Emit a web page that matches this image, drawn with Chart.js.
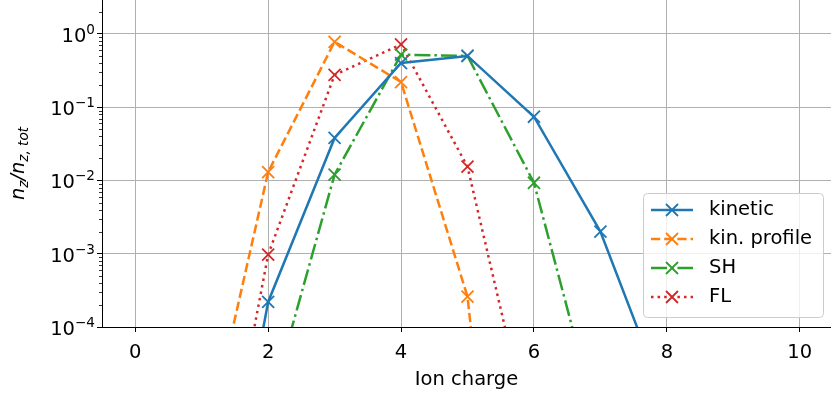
<!DOCTYPE html>
<html>
<head>
<meta charset="utf-8">
<script src="https://cdn.jsdelivr.net/npm/chart.js@4"></script>
<style>
  html, body { margin: 0; padding: 0; background: #fff; }
  #wrap { width: 831px; height: 393px; position: relative; }
</style>
</head>
<body>
<div id="wrap"><canvas id="chart"></canvas></div>
<script>
// ion charge states
const charges = [0, 1, 2, 3, 4, 5, 6, 7, 8, 9, 10];

// fractional abundances n_z / n_z,tot (values below 1e-4 are off the axis)
const kinetic     = [null, 3e-9, 2.2e-4, 0.038, 0.40, 0.50, 0.074, 2.0e-3, 8.7e-6, null, null];
const kinProfile  = [null, 1.3e-6, 0.013, 0.78, 0.22, 2.6e-4, 1e-12, null, null, null, null];
const sh          = [null, null, 6.8e-6, 0.012, 0.52, 0.50, 0.0093, 3.5e-6, null, null, null];
const fl          = [null, 1.6e-8, 9.7e-4, 0.275, 0.72, 0.0154, 2e-6, null, null, null, null];

const xTicks = [0, 2, 4, 6, 8, 10];
const yDecades = [-4, -3, -2, -1, 0];

const seriesNames = ["kinetic", "kin. profile", "SH", "FL"];
const seriesColors = ["#1f77b4", "#ff7f0e", "#2ca02c", "#d62728"];
const seriesDash = [[], [9.2, 4], [16, 4, 2.5, 4], [2.5, 4.1]];
const seriesData = [kinetic, kinProfile, sh, fl];

const FONT = "DejaVu Sans";
const FS = 19.5, FS_SMALL = 13.6;
Chart.defaults.font.family = FONT;
Chart.defaults.font.size = FS;
Chart.defaults.color = "#000";

function isMajor(v) {
    const l = Math.log10(v);
    return Math.abs(l - Math.round(l)) < 1e-9;
}

// legend, y tick labels and y title drawn by hand
const extras = {
    id: "extras",
    afterDraw(chart) {
        const ctx = chart.ctx;
        const area = chart.chartArea;
        const ys = chart.scales.y;

        ctx.save();
        ctx.strokeStyle = "#000";
        ctx.fillStyle = "#000";
        ctx.lineWidth = 0.8;
        ys.ticks.forEach(t => {
            if (t.value > ys.max) return;
            const py = Math.round(ys.getPixelForValue(t.value)) + 0.5;
            if (!isMajor(t.value)) {
                // minor tick
                ctx.beginPath();
                ctx.moveTo(area.left, py);
                ctx.lineTo(area.left - 3, py);
                ctx.stroke();
                return;
            }
            // 10^e label with a raised exponent
            const e = String(Math.round(Math.log10(t.value))).replace("-", "\u2212");
            ctx.textBaseline = "alphabetic";
            ctx.textAlign = "left";
            ctx.font = FS_SMALL + "px " + FONT;
            const we = ctx.measureText(e).width;
            ctx.font = FS + "px " + FONT;
            const wb = ctx.measureText("10").width;
            const right = area.left - 7;
            ctx.fillText("10", right - we - wb, py + 7);
            ctx.font = FS_SMALL + "px " + FONT;
            ctx.fillText(e, right - we, py - 1);
        });
        ctx.restore();

        // legend box
        const bx = 643, by = 193, bw = 180, bh = 124, r = 4;
        ctx.save();
        ctx.beginPath();
        ctx.roundRect(bx + 0.5, by + 0.5, bw, bh, r);
        ctx.fillStyle = "rgba(255,255,255,0.8)";
        ctx.fill();
        ctx.strokeStyle = "#cccccc";
        ctx.lineWidth = 1;
        ctx.stroke();
        seriesNames.forEach((name, i) => {
            const y = 210 + i * 29;
            ctx.strokeStyle = seriesColors[i];
            ctx.lineWidth = 2.5;
            ctx.setLineDash(seriesDash[i]);
            ctx.beginPath();
            ctx.moveTo(651, y);
            ctx.lineTo(693, y);
            ctx.stroke();
            ctx.setLineDash([]);
            ctx.lineWidth = 1.8;
            ctx.beginPath();
            ctx.moveTo(672 - 6, y - 6);
            ctx.lineTo(672 + 6, y + 6);
            ctx.moveTo(672 - 6, y + 6);
            ctx.lineTo(672 + 6, y - 6);
            ctx.stroke();
            ctx.fillStyle = "#000";
            ctx.font = FS + "px " + FONT;
            ctx.textBaseline = "middle";
            ctx.textAlign = "left";
            ctx.fillText(name, 709, y);
        });
        ctx.restore();

        // y axis title: n_z / n_{z,tot}
        ctx.save();
        ctx.translate(24, (area.top + area.bottom) / 2);
        ctx.rotate(-Math.PI / 2);
        ctx.fillStyle = "#000";
        ctx.textBaseline = "alphabetic";
        ctx.textAlign = "left";
        const big = "italic " + FS + "px " + FONT, small = "italic " + FS_SMALL + "px " + FONT;
        const parts = [
            ["n", big, 0], ["z", small, 4], ["/", big, 0], ["n", big, 0], ["z, tot", small, 4]
        ];
        let total = 0;
        parts.forEach(p => { ctx.font = p[1]; total += ctx.measureText(p[0]).width; });
        let x = -total / 2;
        parts.forEach(p => {
            ctx.font = p[1];
            ctx.fillText(p[0], x, p[2]);
            x += ctx.measureText(p[0]).width;
        });
        ctx.restore();
    }
};

const datasets = seriesData.map((d, i) => ({
    label: seriesNames[i],
    data: d,
    borderColor: seriesColors[i],
    backgroundColor: seriesColors[i],
    borderWidth: 2.5,
    borderDash: seriesDash[i],
    borderCapStyle: "butt",
    pointStyle: "crossRot",
    pointRadius: 8.5,
    pointHoverRadius: 8.5,
    pointBorderWidth: 1.8,
    pointBorderColor: seriesColors[i],
    tension: 0,
    fill: false
}));

function noPad(s) {
    s.paddingLeft = 0; s.paddingRight = 0; s.paddingTop = 0; s.paddingBottom = 0;
}

new Chart(document.getElementById("chart"), {
    type: "line",
    data: { labels: charges, datasets },
    plugins: [extras],
    options: {
        responsive: true,
        maintainAspectRatio: false,
        animation: false,
        events: [],
        layout: { padding: 0, autoPadding: false },
        plugins: { legend: { display: false }, tooltip: { enabled: false } },
        scales: {
            x: {
                type: "linear",
                min: -0.5,
                max: 10.47,
                afterBuildTicks: s => { s.ticks = xTicks.map(v => ({ value: v })); },
                afterFit: s => { s.height = 66; noPad(s); },
                ticks: { autoSkip: false, maxRotation: 0, padding: 9, callback: v => String(v) },
                grid: { color: "#b0b0b0", lineWidth: 1, tickLength: 5, tickColor: "#000" },
                border: { color: "#000", width: 1 },
                title: { display: true, text: "Ion charge", font: { size: FS }, padding: { top: 0, bottom: 1 } }
            },
            y: {
                type: "logarithmic",
                min: 1e-4,
                max: 2.9,
                afterBuildTicks: s => {
                    const t = [];
                    yDecades.forEach(e => {
                        for (let m = 1; m <= 9; m++) {
                            const v = m * Math.pow(10, e);
                            if (v <= 2.9) t.push({ value: v });
                        }
                    });
                    s.ticks = t;
                },
                afterFit: s => { s.width = 102; noPad(s); },
                ticks: { autoSkip: false, padding: 2, callback: () => "" },
                grid: {
                    color: c => (c.tick && isMajor(c.tick.value)) ? "#b0b0b0" : "rgba(0,0,0,0)",
                    tickColor: c => (c.tick && isMajor(c.tick.value)) ? "#000" : "rgba(0,0,0,0)",
                    lineWidth: 1,
                    tickLength: 5
                },
                border: { color: "#000", width: 1 }
            }
        }
    }
});
</script>
</body>
</html>
